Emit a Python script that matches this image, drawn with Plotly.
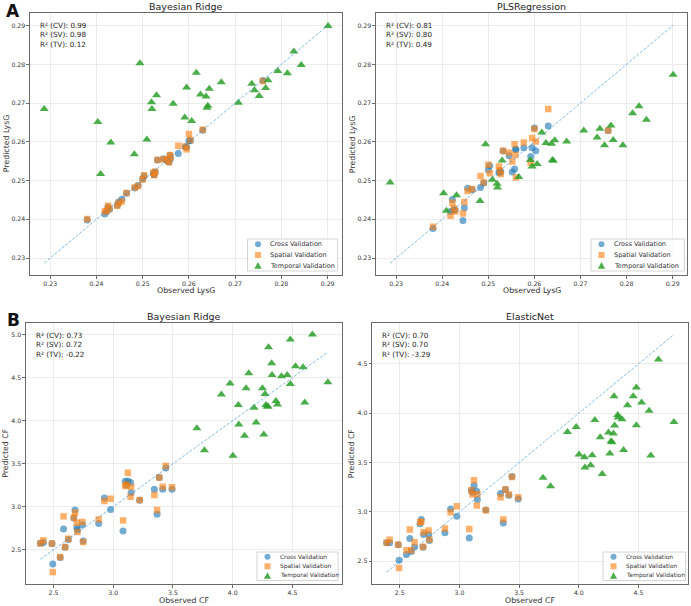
import numpy as np
import plotly.graph_objects as go

W, H = 691, 606
FONT = "DejaVu Sans"

# ---------------- Panel A : LysG ----------------
lysg_obs = [0.2380, 0.2418, 0.2422, 0.2425, 0.2428, 0.2445, 0.2448, 0.2455, 0.2465, 0.2483,
            0.2490, 0.2500, 0.2503, 0.2523, 0.2525, 0.2527, 0.2532, 0.2545, 0.2552, 0.2557,
            0.2559, 0.2560, 0.2577, 0.2592, 0.2595, 0.2600, 0.2603, 0.2630, 0.2760]
lysg_br_cv = [0.2398, 0.2414, 0.2420, 0.2432, 0.2426, 0.2436, 0.2445, 0.2452, 0.2467, 0.2481,
              0.2487, 0.2504, 0.2512, 0.2518, 0.2515, 0.2522, 0.2553, 0.2556, 0.2552, 0.2548,
              0.2565, 0.2557, 0.2570, 0.2587, 0.2586, 0.2603, 0.2603, 0.2630, 0.2758]
lysg_br_sv = [0.2401, 0.2420, 0.2422, 0.2435, 0.2428, 0.2435, 0.2442, 0.2446, 0.2468, 0.2482,
              0.2486, 0.2503, 0.2514, 0.2520, 0.2514, 0.2523, 0.2553, 0.2555, 0.2553, 0.2547,
              0.2566, 0.2560, 0.2590, 0.2588, 0.2581, 0.2620, 0.2605, 0.2631, 0.2757]
lysg_pls_cv = [0.2376, 0.2420, 0.2451, 0.2425, 0.2424, 0.2397, 0.2430, 0.2480, 0.2476, 0.2482,
               0.2494, 0.2527, 0.2538, 0.2520, 0.2525, 0.2522, 0.2576, 0.2564, 0.2522, 0.2530,
               0.2581, 0.2580, 0.2585, 0.2562, 0.2585, 0.2636, 0.2577, 0.2641, 0.2629]
lysg_pls_sv = [0.2381, 0.2409, 0.2443, 0.2428, 0.2420, 0.2415, 0.2445, 0.2473, 0.2478, 0.2512,
               0.2495, 0.2541, 0.2519, 0.2536, 0.2526, 0.2517, 0.2577, 0.2572, 0.2549, 0.2594,
               0.2566, 0.2508, 0.2598, 0.2546, 0.2610, 0.2633, 0.2601, 0.2685, 0.2629]

lysg_tv_obs = [0.2287, 0.2403, 0.2409, 0.2431, 0.2482, 0.2494, 0.2509, 0.2519, 0.2520, 0.2530,
               0.2566, 0.2591, 0.2595, 0.2606, 0.2616, 0.2625, 0.2637, 0.2639, 0.2641, 0.2644,
               0.2670, 0.2707, 0.2736, 0.2742, 0.2752, 0.2766, 0.2771, 0.2792, 0.2813, 0.2827,
               0.2843, 0.2901]
lysg_br_tv = [0.2685, 0.2651, 0.2517, 0.2598, 0.2568, 0.2803, 0.2606, 0.2702, 0.2685, 0.2720,
              0.2698, 0.2663, 0.2740, 0.2654, 0.2778, 0.2722, 0.2717, 0.2688, 0.2693, 0.2737,
              0.2754, 0.2701, 0.2750, 0.2733, 0.2718, 0.2739, 0.2759, 0.2783, 0.2777, 0.2833,
              0.2798, 0.2899]
lysg_pls_tv = [0.2495, 0.2467, 0.2422, 0.2462, 0.2447, 0.2594, 0.2502, 0.2492, 0.2482, 0.2552,
               0.2509, 0.2553, 0.2536, 0.2543, 0.2624, 0.2597, 0.2595, 0.2553, 0.2551, 0.2604,
               0.2601, 0.2629, 0.2611, 0.2634, 0.2591, 0.2642, 0.2605, 0.2591, 0.2674, 0.2692,
               0.2657, 0.2773]

# ---------------- Panel B : CF ----------------
cf_obs = [2.390, 2.415, 2.487, 2.494, 2.556, 2.584, 2.597, 2.624, 2.670, 2.680,
          2.695, 2.700, 2.742, 2.748, 2.878, 2.926, 2.978, 3.082, 3.100, 3.110,
          3.122, 3.145, 3.150, 3.221, 3.344, 3.367, 3.385, 3.414, 3.440, 3.492]
cf_br_cv = [2.575, 2.585, 2.570, 2.333, 2.410, 2.741, 2.530, 2.620, 2.870, 2.962,
            2.756, 2.730, 2.791, 2.601, 2.806, 3.101, 2.969, 2.717, 3.295, 3.250,
            3.300, 3.280, 3.163, 3.075, 3.202, 2.911, 3.338, 3.202, 3.451, 3.202]
cf_br_sv = [2.574, 2.609, 2.574, 2.240, 2.415, 2.888, 2.531, 2.628, 2.873, 2.931,
            2.814, 2.706, 2.822, 2.590, 2.853, 3.066, 3.093, 2.841, 3.241, 3.260,
            3.396, 3.117, 3.230, 3.078, 3.136, 2.961, 3.338, 3.233, 3.474, 3.225]
cf_en_cv = [2.688, 2.688, 2.668, 2.510, 2.568, 2.730, 2.600, 2.645, 2.880, 2.922,
            2.642, 2.770, 2.770, 2.710, 2.790, 3.030, 2.956, 2.736, 3.216, 3.200,
            3.267, 3.209, 3.125, 3.020, 3.186, 2.889, 3.226, 3.170, 3.360, 3.132]
cf_en_sv = [2.688, 2.719, 2.668, 2.432, 2.611, 2.821, 2.611, 2.692, 2.895, 2.900,
            2.648, 2.794, 2.811, 2.720, 2.831, 2.997, 3.057, 2.828, 3.220, 3.176,
            3.321, 3.064, 3.180, 3.017, 3.149, 2.922, 3.226, 3.176, 3.355, 3.149]

cf_tv_obs = [3.700, 3.763, 3.905, 3.978, 4.002, 4.047, 4.051, 4.099, 4.112, 4.134,
             4.179, 4.196, 4.249, 4.260, 4.270, 4.278, 4.290, 4.295, 4.300, 4.326,
             4.329, 4.362, 4.375, 4.408, 4.456, 4.482, 4.482, 4.526, 4.589, 4.603,
             4.667, 4.797]
cf_br_tv = [3.913, 3.657, 4.305, 4.433, 3.591, 4.181, 3.956, 3.824, 4.375, 4.550,
            4.150, 3.979, 4.375, 3.839, 4.309, 4.181, 4.165, 4.165, 4.853, 4.666,
            4.530, 4.227, 4.189, 4.515, 4.530, 4.942, 4.425, 4.631, 4.620, 4.212,
            5.000, 4.445]
cf_en_tv = [3.345, 3.260, 3.811, 3.861, 3.581, 3.554, 3.449, 3.473, 3.574, 3.932,
            3.757, 3.385, 3.804, 3.591, 3.716, 3.706, 3.794, 4.172, 3.875, 3.983,
            3.956, 3.939, 3.628, 4.081, 4.172, 4.260, 3.878, 4.108, 4.024, 3.571,
            4.544, 3.912]

titles = ["Bayesian Ridge", "PLSRegression", "Bayesian Ridge", "ElasticNet"]
x_labels = ["Observed LysG", "Observed LysG", "Observed CF", "Observed CF"]
y_labels = ["Predicted LysG", "Predicted LysG", "Predicted CF", "Predicted CF"]
r2_cv = ["0.99", "0.81", "0.73", "0.70"]
r2_sv = ["0.98", "0.80", "0.72", "0.70"]
r2_tv = ["0.12", "0.49", "-0.22", "-3.29"]
series_names = ["Cross Validation", "Spatial Validation", "Temporal Validation"]

CV_COL = "rgba(31,119,180,0.62)"
SV_COL = "rgba(255,127,14,0.62)"
TV_COL = "rgba(44,160,44,0.85)"
LINE_COL = "rgba(52,140,210,0.6)"

panel_data = [
    (lysg_obs, lysg_br_cv, lysg_br_sv, lysg_tv_obs, lysg_br_tv),
    (lysg_obs, lysg_pls_cv, lysg_pls_sv, lysg_tv_obs, lysg_pls_tv),
    (cf_obs, cf_br_cv, cf_br_sv, cf_tv_obs, cf_br_tv),
    (cf_obs, cf_en_cv, cf_en_sv, cf_tv_obs, cf_en_tv),
]

# layout geometry in pixels (left, top, right, bottom)
boxes = [(30, 13.3, 342.3, 275), (376, 13.3, 687.3, 275),
         (26, 322.7, 342.3, 584), (372.3, 322.7, 688.3, 584)]
legend_boxes = [(247.5, 239, 337.5, 271), (591, 239, 684.5, 271),
                (257, 552, 338, 580.5), (603, 552, 685.5, 580.5)]
legend_fs = [6.5, 6.5, 5.9, 5.9]
ylab_off = [24, 24, 20.5, 20.5]
xlab_off = [15, 15, 16.5, 16.5]
tick_dt = [0.01, 0.01, 0.5, 0.5]
tick_fmt = [".2f", ".2f", ".1f", ".1f"]


def fx(p):
    return p / W


def fy(p):
    return 1 - p / H


def pad_range(*arrs):
    a = np.concatenate([np.asarray(v, dtype=float) for v in arrs])
    lo, hi = a.min(), a.max()
    d = (hi - lo) * 0.05
    return [lo - d, hi + d]


fig = go.Figure()
annotations = []
shapes = []

for i, (obs, cv, sv, tobs, tv) in enumerate(panel_data):
    sfx = "" if i == 0 else str(i + 1)
    xa, ya = "x" + sfx, "y" + sfx
    all_obs = np.concatenate([obs, tobs])
    lo, hi = float(all_obs.min()), float(all_obs.max())

    fig.add_trace(go.Scatter(x=obs, y=cv, mode="markers", xaxis=xa, yaxis=ya, showlegend=False,
                             name=series_names[0],
                             marker=dict(symbol="circle", size=7, color=CV_COL, line=dict(width=0))))
    fig.add_trace(go.Scatter(x=obs, y=sv, mode="markers", xaxis=xa, yaxis=ya, showlegend=False,
                             name=series_names[1],
                             marker=dict(symbol="square", size=6.5, color=SV_COL, line=dict(width=0))))
    fig.add_trace(go.Scatter(x=tobs, y=tv, mode="markers", xaxis=xa, yaxis=ya, showlegend=False,
                             name=series_names[2],
                             marker=dict(symbol="triangle-up", size=8, color=TV_COL, line=dict(width=0))))
    fig.add_trace(go.Scatter(x=[lo, hi], y=[lo, hi], mode="lines", xaxis=xa, yaxis=ya, showlegend=False,
                             line=dict(color=LINE_COL, width=1, dash="3px,1.6px")))

    l, t, r, b = boxes[i]
    axis_common = dict(showline=True, mirror=True, linecolor="#6a6a6a", linewidth=1.2,
                       showgrid=True, gridcolor="#ececec", gridwidth=1, zeroline=False,
                       ticks="outside", ticklen=2.5, tickwidth=1, tickcolor="#6a6a6a",
                       tickfont=dict(family=FONT, size=6.2, color="#333"),
                       dtick=tick_dt[i], tickformat=tick_fmt[i])
    xr = pad_range(obs, tobs)
    yr = pad_range(cv, sv, tv, [lo, hi])
    fig.update_layout({
        "xaxis" + sfx: dict(domain=[fx(l), fx(r)], anchor=ya, range=xr, **axis_common),
        "yaxis" + sfx: dict(domain=[fy(b), fy(t)], anchor=xa, range=yr, **axis_common),
    })

    cx = (l + r) / 2
    cy = (t + b) / 2
    annotations.append(dict(text=titles[i], x=fx(cx), y=fy(t - 6.5), xref="paper", yref="paper",
                            showarrow=False, xanchor="center", yanchor="middle",
                            font=dict(family=FONT, size=9.5, color="#222")))
    annotations.append(dict(text=x_labels[i], x=fx(cx), y=fy(b + xlab_off[i]), xref="paper", yref="paper",
                            showarrow=False, xanchor="center", yanchor="middle",
                            font=dict(family=FONT, size=7.8, color="#333")))
    annotations.append(dict(text=y_labels[i], x=fx(l - ylab_off[i]), y=fy(cy), xref="paper", yref="paper",
                            showarrow=False, xanchor="center", yanchor="middle", textangle=-90,
                            font=dict(family=FONT, size=7.8, color="#333")))
    r2_text = "R² (CV): %s<br>R² (SV): %s<br>R² (TV): %s" % (r2_cv[i], r2_sv[i], r2_tv[i])
    annotations.append(dict(text=r2_text, x=fx(l + 8), y=fy(t + 6), xref="paper", yref="paper",
                            showarrow=False, xanchor="left", yanchor="top", align="left",
                            font=dict(family=FONT, size=7.2, color="#222")))

    # legend box
    bl, bt, br_, bb = legend_boxes[i]
    shapes.append(dict(type="rect", xref="paper", yref="paper", x0=fx(bl), x1=fx(br_),
                       y0=fy(bb), y1=fy(bt), fillcolor="rgba(255,255,255,0.85)",
                       line=dict(color="#d4d4d4", width=1), layer="above"))
    row_h = (bb - bt) / 3.0
    sx = bl + 10.5
    tx = bl + 20.5
    for k in range(3):
        ry = bt + row_h * (k + 0.5)
        s = 3.0
        if k == 0:
            shapes.append(dict(type="circle", xref="paper", yref="paper", x0=fx(sx - s), x1=fx(sx + s),
                               y0=fy(ry + s), y1=fy(ry - s), fillcolor=CV_COL, line=dict(width=0),
                               layer="above"))
        elif k == 1:
            shapes.append(dict(type="rect", xref="paper", yref="paper", x0=fx(sx - s), x1=fx(sx + s),
                               y0=fy(ry + s), y1=fy(ry - s), fillcolor=SV_COL, line=dict(width=0),
                               layer="above"))
        else:
            p = "M %f,%f L %f,%f L %f,%f Z" % (fx(sx - 3.6), fy(ry + 3), fx(sx + 3.6), fy(ry + 3),
                                               fx(sx), fy(ry - 3.6))
            shapes.append(dict(type="path", xref="paper", yref="paper", path=p, fillcolor=TV_COL,
                               line=dict(width=0), layer="above"))
        annotations.append(dict(text=series_names[k], x=fx(tx), y=fy(ry), xref="paper", yref="paper",
                                showarrow=False, xanchor="left", yanchor="middle",
                                font=dict(family=FONT, size=legend_fs[i], color="#333")))

annotations.append(dict(text="<b>A</b>", x=fx(12.5), y=fy(10.5), xref="paper", yref="paper",
                        showarrow=False, xanchor="center", yanchor="middle",
                        font=dict(family=FONT, size=17, color="#111")))
annotations.append(dict(text="<b>B</b>", x=fx(13), y=fy(320), xref="paper", yref="paper",
                        showarrow=False, xanchor="center", yanchor="middle",
                        font=dict(family=FONT, size=17, color="#111")))

fig.update_layout(width=W, height=H, margin=dict(l=0, r=0, t=0, b=0),
                  paper_bgcolor="white", plot_bgcolor="white",
                  showlegend=False, annotations=annotations, shapes=shapes,
                  font=dict(family=FONT))

fig.write_html("out.html")
